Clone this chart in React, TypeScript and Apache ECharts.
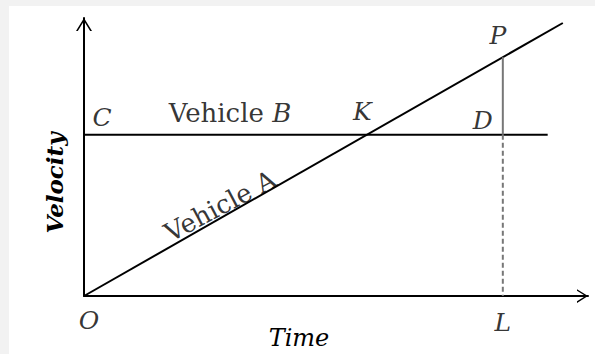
import React, { useEffect, useRef } from "react";
import * as echarts from "echarts";

// Vehicle A: uniform acceleration from rest (line O-K-P)
const vehicleA: number[][] = [[0, 0], [9.5, 9.82]];
// Vehicle B: constant velocity (line C-K-D)
const vehicleB: number[][] = [[0, 5.8], [9.2, 5.8]];
// time L and the velocities at L
const tK = 5.6;
const tL = 8.31;
const vB = 5.8;
const vP = 8.59;
const segPD: number[][] = [[tL, vP], [tL, vB]];
const segDL: number[][] = [[tL, vB], [tL, 0]];

const pointNames = ["O", "C", "K", "D", "P", "L"];
const pointCoords: number[][] = [[0, 0], [0, vB], [tK, vB], [tL, vB], [tL, vP], [tL, 0]];
const pointOffsets: number[][] = [[5, 24], [18, -17], [-4, -23], [-20, -14], [-5, -22], [0, 26]];

const xName = "Time";
const yName = "Velocity";

export default function App() {
  const ref = useRef<HTMLDivElement>(null);
  useEffect(() => {
    if (!ref.current) return;
    const chart = echarts.init(ref.current, undefined, { renderer: "svg" });
    const serif = "DejaVu Serif";
    const ink = "#000000";
    const arrow = "path://M0,12 L7.5,0 L15,12 L13.3,12 L7.5,2.8 L1.7,12 Z";
    const letterData = pointNames.map((n, i) => ({
      name: n,
      value: pointCoords[i],
      label: { offset: pointOffsets[i] },
    }));
    const aFrac = 0.284;
    chart.setOption({
      animation: false,
      backgroundColor: "#f2f2f2",
      graphic: [
        {
          type: "rect",
          z: -10,
          shape: { x: 9, y: 6, width: 600, height: 360 },
          style: { fill: "#ffffff" },
          silent: true,
        },
      ],
      grid: { left: 84, right: 7, top: 18, bottom: 58, outerBoundsMode: "none", containLabel: false },
      xAxis: {
        type: "value",
        min: 0,
        max: 10,
        name: xName,
        nameLocation: "middle",
        nameGap: 30,
        nameTextStyle: {
          fontFamily: serif,
          fontStyle: "italic",
          fontSize: 24,
          color: ink,
          padding: [0, 74, 0, 0],
        },
        axisLine: {
          lineStyle: { color: ink, width: 2 },
          symbol: ["none", arrow],
          symbolSize: [15, 11],
          symbolOffset: [0, -5.5],
        },
        axisTick: { show: false },
        axisLabel: { show: false },
        splitLine: { show: false },
      },
      yAxis: {
        type: "value",
        min: 0,
        max: 10,
        name: yName,
        nameLocation: "middle",
        nameGap: 18,
        nameRotate: 90,
        nameTextStyle: {
          fontFamily: serif,
          fontStyle: "italic",
          fontWeight: "bold",
          fontSize: 23,
          color: ink,
          padding: [0, 52, 0, 0],
        },
        axisLine: {
          lineStyle: { color: ink, width: 2 },
          symbol: ["none", arrow],
          symbolSize: [16, 13],
          symbolOffset: [0, -6.5],
        },
        axisTick: { show: false },
        axisLabel: { show: false },
        splitLine: { show: false },
      },
      series: [
        {
          type: "line",
          name: "Vehicle A",
          data: vehicleA,
          symbol: "none",
          lineStyle: { color: ink, width: 2 },
          silent: true,
        },
        {
          type: "line",
          name: "Vehicle B",
          data: vehicleB,
          symbol: "none",
          lineStyle: { color: ink, width: 2 },
          silent: true,
        },
        {
          type: "line",
          data: segPD,
          symbol: "none",
          lineStyle: { color: "#777777", width: 2 },
          silent: true,
        },
        {
          type: "line",
          data: segDL,
          symbol: "none",
          lineStyle: { color: "#777777", width: 2, type: [5, 3] },
          silent: true,
        },
        {
          type: "scatter",
          data: letterData,
          symbolSize: 0,
          silent: true,
          label: {
            show: true,
            position: "inside",
            formatter: "{b}",
            fontFamily: serif,
            fontStyle: "italic",
            fontSize: 25,
            color: ink,
          },
        },
        {
          type: "scatter",
          symbolSize: 0,
          silent: true,
          data: [
            {
              name: "Vehicle B",
              value: [0, vB],
              label: {
                offset: [146, -22],
                formatter: "{n|Vehicle }{i|B}",
              },
            },
            {
              name: "Vehicle A",
              value: [vehicleA[1][0] * aFrac, vehicleA[1][1] * aFrac],
              label: {
                offset: [6, -11],
                rotate: 28,
                formatter: "{n|Vehicle A}",
              },
            },
          ],
          label: {
            show: true,
            position: "inside",
            color: ink,
            rich: {
              n: { fontFamily: serif, fontSize: 26, color: ink },
              i: { fontFamily: serif, fontSize: 26, fontStyle: "italic", color: ink },
            },
          },
        },
      ],
    });
    return () => chart.dispose();
  }, []);
  return (
    <div
      ref={ref}
      style={{ position: "fixed", left: 0, top: 0, width: 595, height: 354 }}
    />
  );
}
